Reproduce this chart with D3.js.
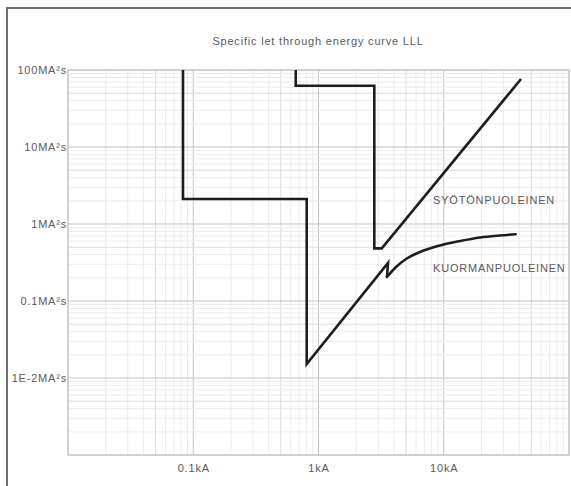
<!DOCTYPE html>
<html>
<head>
<meta charset="utf-8">
<script src="https://cdn.jsdelivr.net/npm/d3@7"></script>
<style>
  html, body { margin: 0; padding: 0; background: #fff; }
  svg { display: block; }
  text { font-family: "Liberation Sans", Arial, sans-serif; }
</style>
</head>
<body>
<svg id="chart" width="571" height="486"></svg>
<script>
// ---- data ----
const titleText = "Specific let through energy curve LLL";
const xDomain = [0.01, 100];          // kA
const yDomain = [1e-3, 100];          // MA²s
const xTickValues = [0.1, 1, 10];
const xTickLabels = ["0.1kA", "1kA", "10kA"];
const yTickValues = [100, 10, 1, 0.1, 0.01];
const yTickLabels = ["100MA²s", "10MA²s", "1MA²s", "0.1MA²s", "1E-2MA²s"];

// SYÖTÖNPUOLEINEN (supply side)
const supplyName = "SYÖTÖNPUOLEINEN";
const supplyCurrent = [0.658, 0.658, 2.79, 2.79, 3.20, 41.4];
const supplyEnergy  = [100, 62.5, 62.5, 0.483, 0.483, 76.4];

// KUORMANPUOLEINEN (load side)
const loadName = "KUORMANPUOLEINEN";
const loadCurrent = [0.0828, 0.0828, 0.805, 0.805, 3.59, 3.52, 4.16, 5.0, 6.46, 9.33, 13.5, 19.5, 28.1, 37.5];
const loadEnergy  = [100, 2.11, 2.11, 0.0152, 0.312, 0.205, 0.276, 0.351, 0.433, 0.526, 0.601, 0.668, 0.709, 0.735];

// ---- layout ----
const svg = d3.select("#chart");
const plot = { left: 68, top: 70, right: 569, bottom: 455 };

const x = d3.scaleLog().domain(xDomain).range([plot.left, plot.right]);
const y = d3.scaleLog().domain(yDomain).range([plot.bottom, plot.top]);

// outer frame
svg.append("path")
  .attr("d", `M7,486 L7,8 L571,8`)
  .attr("fill", "none")
  .attr("stroke", "#6e6e6e")
  .attr("stroke-width", 2);

// grid
const g = svg.append("g");
function lvl(v) {
  const m = Math.round(v / Math.pow(10, Math.floor(Math.log10(v) + 1e-9)));
  return m === 1 ? 2 : (m === 5 ? 1 : 0);
}
const gridColors = ["#ececec", "#dcdcdc", "#c4c4c4"];
const xt = x.ticks(40);
const yt = y.ticks(40);
xt.forEach(v => {
  g.append("line")
    .attr("x1", x(v)).attr("x2", x(v))
    .attr("y1", plot.top).attr("y2", plot.bottom)
    .attr("stroke", gridColors[lvl(v)]).attr("stroke-width", 1);
});
yt.forEach(v => {
  g.append("line")
    .attr("y1", y(v)).attr("y2", y(v))
    .attr("x1", plot.left).attr("x2", plot.right)
    .attr("stroke", gridColors[lvl(v)]).attr("stroke-width", 1);
});
g.append("rect")
  .attr("x", plot.left).attr("y", plot.top)
  .attr("width", plot.right - plot.left).attr("height", plot.bottom - plot.top)
  .attr("fill", "none").attr("stroke", "#c0c0c0").attr("stroke-width", 1);

// axes labels
const textStyle = sel => sel.attr("font-size", 11).attr("fill", "#5a5a5a").attr("letter-spacing", "0.8px");

const xAxis = d3.axisBottom(x).tickValues(xTickValues)
  .tickFormat((d, i) => xTickLabels[i]).tickSize(0).tickPadding(0);
const xa = svg.append("g").attr("transform", `translate(0,${plot.bottom + 9})`).call(xAxis);
xa.select(".domain").remove();
xa.selectAll("text").call(textStyle);

const yAxis = d3.axisLeft(y).tickValues(yTickValues)
  .tickFormat((d, i) => yTickLabels[i]).tickSize(0).tickPadding(1);
const ya = svg.append("g").attr("transform", `translate(${plot.left},0)`).call(yAxis);
ya.select(".domain").remove();
ya.selectAll("text").call(textStyle);
svg.selectAll(".tick text").attr("font-family", "Liberation Sans, Arial, sans-serif");

// title
svg.append("text")
  .attr("x", 318).attr("y", 45)
  .attr("text-anchor", "middle")
  .text(titleText)
  .call(textStyle);

// curves
const line = d3.line().x(d => x(d[0])).y(d => y(d[1]));
const supplyPts = supplyCurrent.map((c, i) => [c, supplyEnergy[i]]);
const loadPts = loadCurrent.map((c, i) => [c, loadEnergy[i]]);

svg.append("path")
  .attr("d", line(supplyPts))
  .attr("fill", "none").attr("stroke", "#1e1e1e")
  .attr("stroke-width", 2.6).attr("stroke-linejoin", "miter");

// load: straight segments up to trough, smooth after
const loadStraight = loadPts.slice(0, 6);
const loadSmooth = loadPts.slice(5);
svg.append("path")
  .attr("d", line(loadStraight))
  .attr("fill", "none").attr("stroke", "#1e1e1e")
  .attr("stroke-width", 2.6).attr("stroke-linejoin", "miter");
svg.append("path")
  .attr("d", d3.line().x(d => x(d[0])).y(d => y(d[1])).curve(d3.curveMonotoneX)(loadSmooth))
  .attr("fill", "none").attr("stroke", "#1e1e1e")
  .attr("stroke-width", 2.6).attr("stroke-linecap", "round");

// curve labels
svg.append("text").attr("x", 433).attr("y", 204).text(supplyName).call(textStyle);
svg.append("text").attr("x", 433).attr("y", 272).text(loadName).call(textStyle);
</script>
</body>
</html>
